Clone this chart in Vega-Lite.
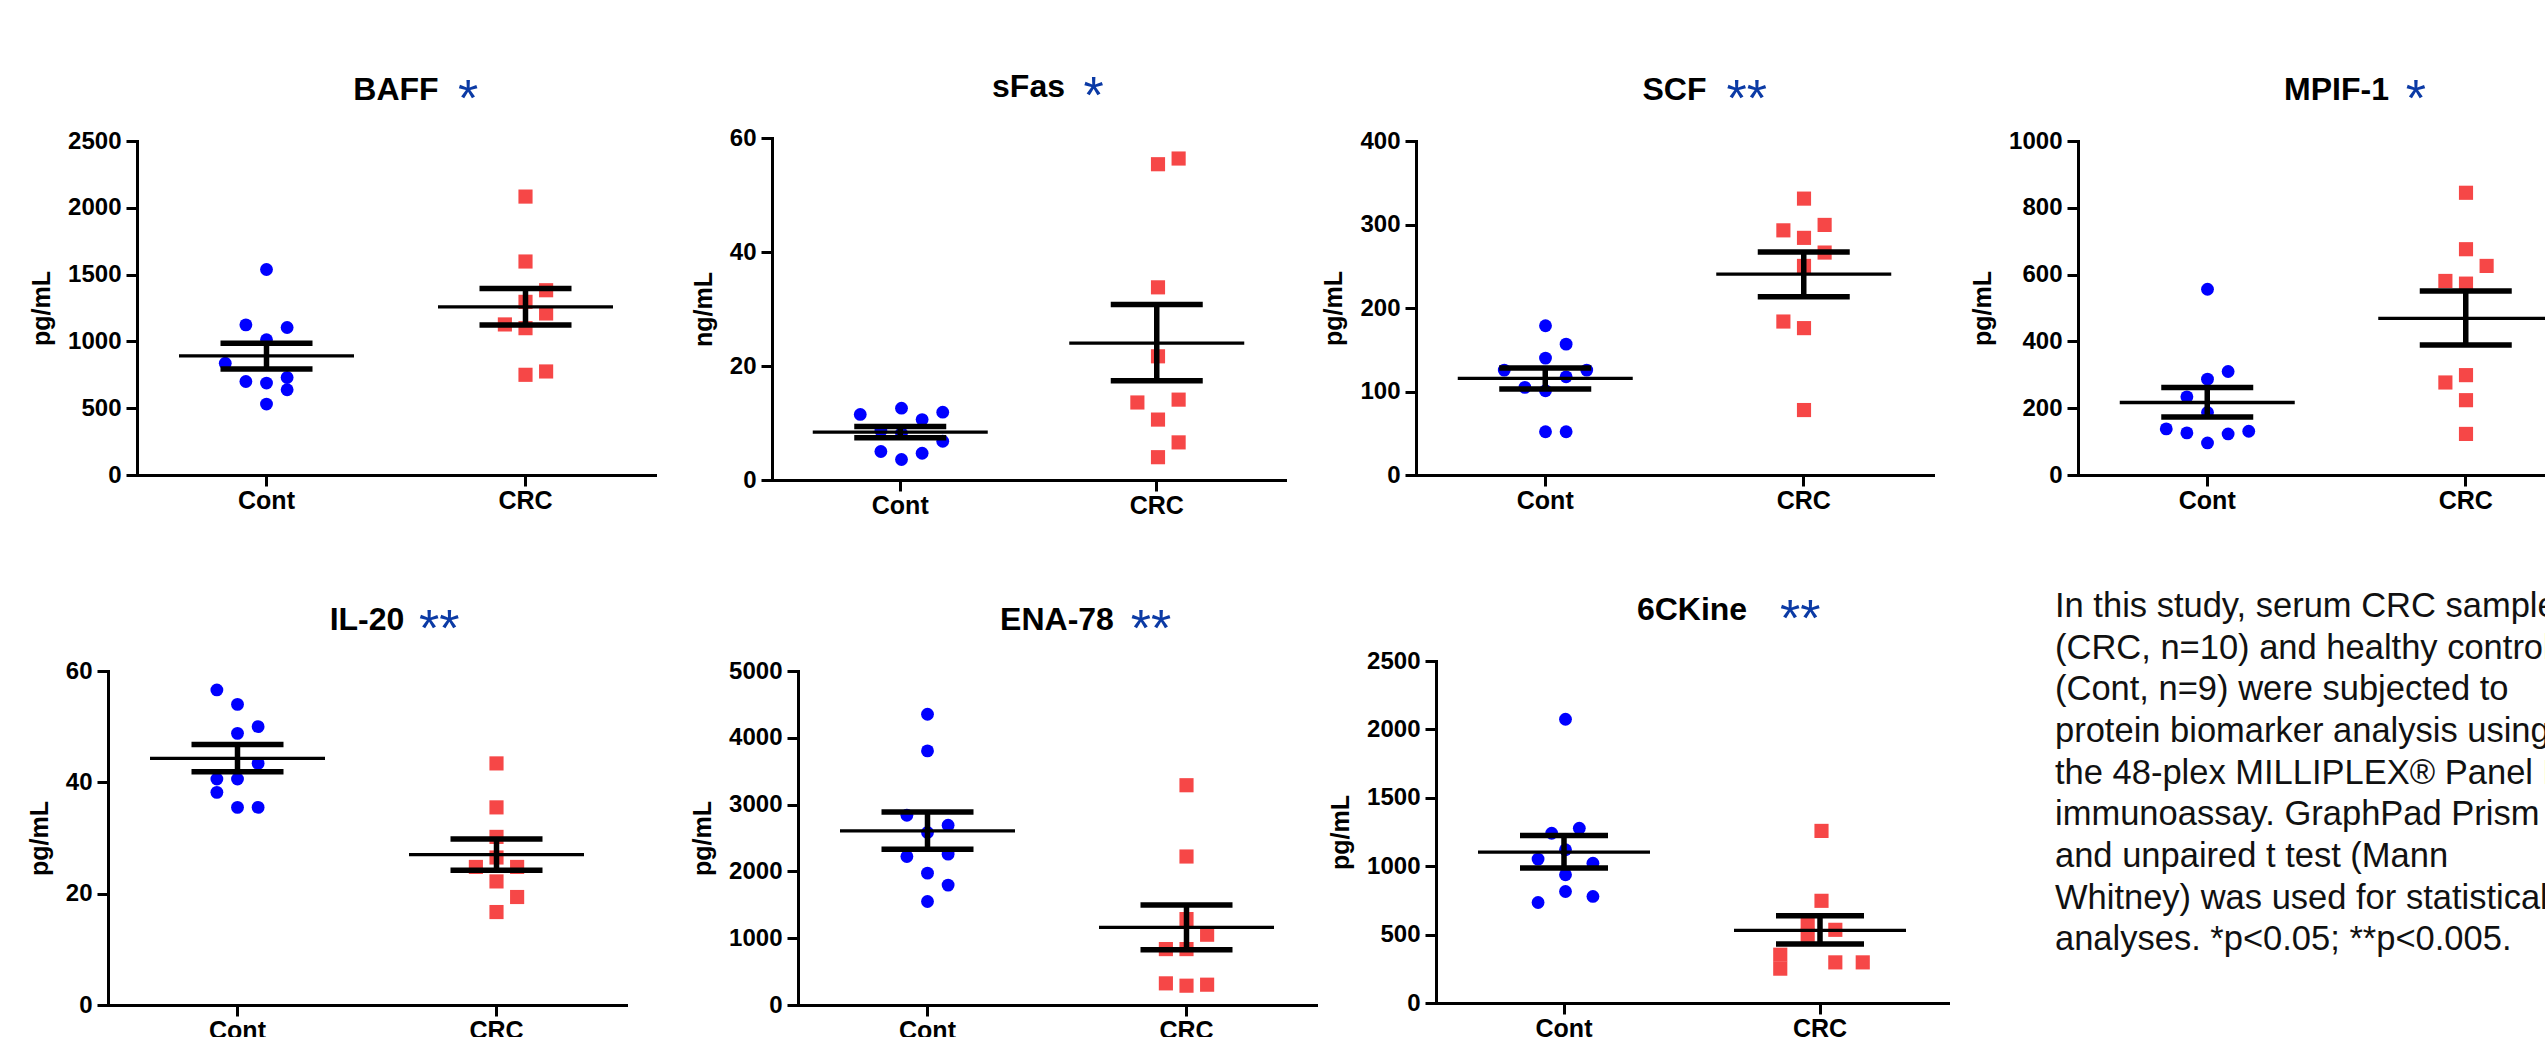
{
"$schema": "https://vega.github.io/schema/vega-lite/v6.json",
"background": "white",
"padding": {"top": 71, "left": 0, "right": 0, "bottom": 0},
"autosize": {"type": "pad"},
"spacing": 0,
"datasets": {
"pts": [
{"p":"BAFF","g":"Cont","v":1538,"j":0},{"p":"BAFF","g":"Cont","v":1124,"j":-1},{"p":"BAFF","g":"Cont","v":1104,"j":1},{"p":"BAFF","g":"Cont","v":1012,"j":0},{"p":"BAFF","g":"Cont","v":837,"j":-2},{"p":"BAFF","g":"Cont","v":730,"j":1},{"p":"BAFF","g":"Cont","v":700,"j":-1},{"p":"BAFF","g":"Cont","v":688,"j":0},{"p":"BAFF","g":"Cont","v":638,"j":1},{"p":"BAFF","g":"Cont","v":531,"j":0},
{"p":"BAFF","g":"CRC","v":2084,"j":0},{"p":"BAFF","g":"CRC","v":1598,"j":0},{"p":"BAFF","g":"CRC","v":1383,"j":1},{"p":"BAFF","g":"CRC","v":1296,"j":0},{"p":"BAFF","g":"CRC","v":1209,"j":1},{"p":"BAFF","g":"CRC","v":1127,"j":-1},{"p":"BAFF","g":"CRC","v":1099,"j":0},{"p":"BAFF","g":"CRC","v":775,"j":1},{"p":"BAFF","g":"CRC","v":750,"j":0},
{"p":"sFas","g":"Cont","v":12.6,"j":0},{"p":"sFas","g":"Cont","v":11.5,"j":-2},{"p":"sFas","g":"Cont","v":11.9,"j":2},{"p":"sFas","g":"Cont","v":10.6,"j":1},{"p":"sFas","g":"Cont","v":8.6,"j":-1},{"p":"sFas","g":"Cont","v":8.2,"j":0},{"p":"sFas","g":"Cont","v":6.8,"j":2},{"p":"sFas","g":"Cont","v":5.0,"j":-1},{"p":"sFas","g":"Cont","v":4.7,"j":1},{"p":"sFas","g":"Cont","v":3.6,"j":0},
{"p":"sFas","g":"CRC","v":56.4,"j":1},{"p":"sFas","g":"CRC","v":55.4,"j":0},{"p":"sFas","g":"CRC","v":33.8,"j":0},{"p":"sFas","g":"CRC","v":21.7,"j":0},{"p":"sFas","g":"CRC","v":13.6,"j":-1},{"p":"sFas","g":"CRC","v":14.1,"j":1},{"p":"sFas","g":"CRC","v":10.6,"j":0},{"p":"sFas","g":"CRC","v":6.6,"j":1},{"p":"sFas","g":"CRC","v":4.0,"j":0},
{"p":"SCF","g":"Cont","v":178.7,"j":0},{"p":"SCF","g":"Cont","v":156.7,"j":1},{"p":"SCF","g":"Cont","v":140,"j":0},{"p":"SCF","g":"Cont","v":125.6,"j":-2},{"p":"SCF","g":"Cont","v":125.6,"j":2},{"p":"SCF","g":"Cont","v":117.6,"j":1},{"p":"SCF","g":"Cont","v":104.9,"j":-1},{"p":"SCF","g":"Cont","v":100.9,"j":0},{"p":"SCF","g":"Cont","v":51.8,"j":0},{"p":"SCF","g":"Cont","v":51.8,"j":1},
{"p":"SCF","g":"CRC","v":331,"j":0},{"p":"SCF","g":"CRC","v":299.5,"j":1},{"p":"SCF","g":"CRC","v":293,"j":-1},{"p":"SCF","g":"CRC","v":284,"j":0},{"p":"SCF","g":"CRC","v":266.4,"j":1},{"p":"SCF","g":"CRC","v":250.4,"j":0},{"p":"SCF","g":"CRC","v":183.8,"j":-1},{"p":"SCF","g":"CRC","v":175.9,"j":0},{"p":"SCF","g":"CRC","v":77.8,"j":0},
{"p":"MPIF-1","g":"Cont","v":556,"j":0},{"p":"MPIF-1","g":"Cont","v":310,"j":1},{"p":"MPIF-1","g":"Cont","v":287,"j":0},{"p":"MPIF-1","g":"Cont","v":234,"j":-1},{"p":"MPIF-1","g":"Cont","v":187,"j":0},{"p":"MPIF-1","g":"Cont","v":138,"j":-2},{"p":"MPIF-1","g":"Cont","v":131,"j":2},{"p":"MPIF-1","g":"Cont","v":126,"j":-1},{"p":"MPIF-1","g":"Cont","v":123,"j":1},{"p":"MPIF-1","g":"Cont","v":96,"j":0},
{"p":"MPIF-1","g":"CRC","v":845,"j":0},{"p":"MPIF-1","g":"CRC","v":676,"j":0},{"p":"MPIF-1","g":"CRC","v":626,"j":1},{"p":"MPIF-1","g":"CRC","v":581,"j":-1},{"p":"MPIF-1","g":"CRC","v":573,"j":0},{"p":"MPIF-1","g":"CRC","v":299,"j":0},{"p":"MPIF-1","g":"CRC","v":277,"j":-1},{"p":"MPIF-1","g":"CRC","v":224,"j":0},{"p":"MPIF-1","g":"CRC","v":123,"j":0},
{"p":"IL-20","g":"Cont","v":56.6,"j":-1},{"p":"IL-20","g":"Cont","v":54.0,"j":0},{"p":"IL-20","g":"Cont","v":50.0,"j":1},{"p":"IL-20","g":"Cont","v":48.8,"j":0},{"p":"IL-20","g":"Cont","v":43.4,"j":1},{"p":"IL-20","g":"Cont","v":40.6,"j":-1},{"p":"IL-20","g":"Cont","v":40.6,"j":0},{"p":"IL-20","g":"Cont","v":38.2,"j":-1},{"p":"IL-20","g":"Cont","v":35.5,"j":0},{"p":"IL-20","g":"Cont","v":35.5,"j":1},
{"p":"IL-20","g":"CRC","v":43.4,"j":0},{"p":"IL-20","g":"CRC","v":35.5,"j":0},{"p":"IL-20","g":"CRC","v":30.2,"j":0},{"p":"IL-20","g":"CRC","v":26.5,"j":0},{"p":"IL-20","g":"CRC","v":24.8,"j":-1},{"p":"IL-20","g":"CRC","v":24.8,"j":1},{"p":"IL-20","g":"CRC","v":22.2,"j":0},{"p":"IL-20","g":"CRC","v":19.4,"j":1},{"p":"IL-20","g":"CRC","v":16.7,"j":0},
{"p":"ENA-78","g":"Cont","v":4352,"j":0},{"p":"ENA-78","g":"Cont","v":3804,"j":0},{"p":"ENA-78","g":"Cont","v":2841,"j":-1},{"p":"ENA-78","g":"Cont","v":2692,"j":1},{"p":"ENA-78","g":"Cont","v":2582,"j":0},{"p":"ENA-78","g":"Cont","v":2223,"j":-1},{"p":"ENA-78","g":"Cont","v":2258,"j":1},{"p":"ENA-78","g":"Cont","v":1974,"j":0},{"p":"ENA-78","g":"Cont","v":1795,"j":1},{"p":"ENA-78","g":"Cont","v":1550,"j":0},
{"p":"ENA-78","g":"CRC","v":3290,"j":0},{"p":"ENA-78","g":"CRC","v":2223,"j":0},{"p":"ENA-78","g":"CRC","v":1286,"j":0},{"p":"ENA-78","g":"CRC","v":1052,"j":1},{"p":"ENA-78","g":"CRC","v":837,"j":-1},{"p":"ENA-78","g":"CRC","v":837,"j":0},{"p":"ENA-78","g":"CRC","v":324,"j":-1},{"p":"ENA-78","g":"CRC","v":289,"j":0},{"p":"ENA-78","g":"CRC","v":304,"j":1},
{"p":"6CKine","g":"Cont","v":2074,"j":0},{"p":"6CKine","g":"Cont","v":1278,"j":0.67},{"p":"6CKine","g":"Cont","v":1241,"j":-0.67},{"p":"6CKine","g":"Cont","v":1120,"j":0},{"p":"6CKine","g":"Cont","v":1052,"j":-1.33},{"p":"6CKine","g":"Cont","v":1022,"j":1.33},{"p":"6CKine","g":"Cont","v":937,"j":0},{"p":"6CKine","g":"Cont","v":815,"j":0},{"p":"6CKine","g":"Cont","v":779,"j":1.33},{"p":"6CKine","g":"Cont","v":735,"j":-1.33},
{"p":"6CKine","g":"CRC","v":1258,"j":0},{"p":"6CKine","g":"CRC","v":747,"j":0},{"p":"6CKine","g":"CRC","v":572,"j":-0.67},{"p":"6CKine","g":"CRC","v":535,"j":0.67},{"p":"6CKine","g":"CRC","v":494,"j":-0.67},{"p":"6CKine","g":"CRC","v":353,"j":-2},{"p":"6CKine","g":"CRC","v":251,"j":-2},{"p":"6CKine","g":"CRC","v":297,"j":0.67},{"p":"6CKine","g":"CRC","v":297,"j":2}
],
"sum": [
{"p":"BAFF","g":"Cont","m":892,"lo":793,"hi":987},{"p":"BAFF","g":"CRC","m":1259,"lo":1122,"hi":1396},
{"p":"sFas","g":"Cont","m":8.4,"lo":7.4,"hi":9.4},{"p":"sFas","g":"CRC","m":24.0,"lo":17.4,"hi":30.8},
{"p":"SCF","g":"Cont","m":115.7,"lo":102.9,"hi":128},{"p":"SCF","g":"CRC","m":240.5,"lo":213.4,"hi":267.2},
{"p":"MPIF-1","g":"Cont","m":217,"lo":174,"hi":262},{"p":"MPIF-1","g":"CRC","m":469,"lo":389,"hi":551},
{"p":"IL-20","g":"Cont","m":44.3,"lo":41.9,"hi":46.8},{"p":"IL-20","g":"CRC","m":27.0,"lo":24.2,"hi":29.8},
{"p":"ENA-78","g":"Cont","m":2607,"lo":2333,"hi":2891},{"p":"ENA-78","g":"CRC","m":1162,"lo":828,"hi":1496},
{"p":"6CKine","g":"Cont","m":1103,"lo":986,"hi":1224},{"p":"6CKine","g":"CRC","m":531,"lo":431,"hi":638}
],
"txt": [
{"i":1,"t":"In this study, serum CRC samples"},
{"i":2,"t":"(CRC, n=10) and healthy controls"},
{"i":3,"t":"(Cont, n=9) were subjected to"},
{"i":4,"t":"protein biomarker analysis using"},
{"i":5,"t":"the 48-plex MILLIPLEX® Panel B"},
{"i":6,"t":"immunoassay. GraphPad Prism"},
{"i":7,"t":"and unpaired t test (Mann"},
{"i":8,"t":"Whitney) was used for statistical"},
{"i":9,"t":"analyses. *p<0.05; **p<0.005."}
]
},
"vconcat": [
{
"hconcat": [
{"width":137,"height":448,"data":{"values":[]},"mark":"point"},
{
"width":518,"height":334,
"title":{"text":"BAFF","subtitle":"\u200b\u00a0\u00a0\u00a0\u00a0\u00a0\u00a0\u00a0\u00a0\u00a0\u00a0*"},
"encoding":{"x":{"field":"g","type":"nominal","title":null,"scale":{"type":"band","domain":["Cont","CRC"],"paddingInner":0,"paddingOuter":0}}},
"layer":[
{"data":{"name":"pts"},"transform":[{"filter":"datum.p === 'BAFF'"}],"mark":{"type":"point","filled":true,"opacity":1,"strokeWidth":0},
"encoding":{"xOffset":{"field":"j","type":"quantitative","scale":{"domain":[-6.28,6.28],"nice":false,"zero":false}},
"y":{"field":"v","type":"quantitative","title":"pg/mL","scale":{"domain":[0,2500],"nice":false},"axis":{"values":[0,500,1000,1500,2000,2500],"format":"d"}},
"color":{"field":"g","type":"nominal","scale":{"domain":["Cont","CRC"],"range":["#0000ff","#f64747"]},"legend":null},
"shape":{"field":"g","type":"nominal","scale":{"domain":["Cont","CRC"],"range":["circle","square"]},"legend":null},
"size":{"field":"g","type":"ordinal","scale":{"domain":["Cont","CRC"],"range":[165,200]},"legend":null}}},
{"data":{"name":"sum"},"transform":[{"filter":"datum.p === 'BAFF'"}],"mark":{"type":"tick","size":175,"thickness":3.3,"color":"#000","opacity":1},"encoding":{"y":{"field":"m","type":"quantitative","title":"pg/mL","scale":{"domain":[0,2500],"nice":false}}}},
{"data":{"name":"sum"},"transform":[{"filter":"datum.p === 'BAFF'"}],"mark":{"type":"tick","size":92,"thickness":5.5,"color":"#000","opacity":1},"encoding":{"y":{"field":"lo","type":"quantitative","title":"pg/mL","scale":{"domain":[0,2500],"nice":false}}}},
{"data":{"name":"sum"},"transform":[{"filter":"datum.p === 'BAFF'"}],"mark":{"type":"tick","size":92,"thickness":5.5,"color":"#000","opacity":1},"encoding":{"y":{"field":"hi","type":"quantitative","title":"pg/mL","scale":{"domain":[0,2500],"nice":false}}}},
{"data":{"name":"sum"},"transform":[{"filter":"datum.p === 'BAFF'"}],"mark":{"type":"rule","strokeWidth":5.5,"color":"#000","opacity":1},"encoding":{"y":{"field":"lo","type":"quantitative","title":"pg/mL","scale":{"domain":[0,2500],"nice":false}},"y2":{"field":"hi"}}}
]
},
{"width":117,"height":1,"data":{"values":[]},"mark":"point"},
{
"width":513,"height":339,
"title":{"text":"sFas","subtitle":"\u200b\u00a0\u00a0\u00a0\u00a0\u00a0\u00a0\u00a0\u00a0\u00a0*"},
"encoding":{"x":{"field":"g","type":"nominal","title":null,"scale":{"type":"band","domain":["Cont","CRC"],"paddingInner":0,"paddingOuter":0}}},
"layer":[
{"data":{"name":"pts"},"transform":[{"filter":"datum.p === 'sFas'"}],"mark":{"type":"point","filled":true,"opacity":1,"strokeWidth":0},
"encoding":{"xOffset":{"field":"j","type":"quantitative","scale":{"domain":[-6.28,6.28],"nice":false,"zero":false}},
"y":{"field":"v","type":"quantitative","title":"ng/mL","scale":{"domain":[0,60],"nice":false,"range":[339,-3]},"axis":{"values":[0,20,40,60],"format":"d"}},
"color":{"field":"g","type":"nominal","scale":{"domain":["Cont","CRC"],"range":["#0000ff","#f64747"]},"legend":null},
"shape":{"field":"g","type":"nominal","scale":{"domain":["Cont","CRC"],"range":["circle","square"]},"legend":null},
"size":{"field":"g","type":"ordinal","scale":{"domain":["Cont","CRC"],"range":[165,200]},"legend":null}}},
{"data":{"name":"sum"},"transform":[{"filter":"datum.p === 'sFas'"}],"mark":{"type":"tick","size":175,"thickness":3.3,"color":"#000","opacity":1},"encoding":{"y":{"field":"m","type":"quantitative","title":"ng/mL","scale":{"domain":[0,60],"nice":false,"range":[339,-3]}}}},
{"data":{"name":"sum"},"transform":[{"filter":"datum.p === 'sFas'"}],"mark":{"type":"tick","size":92,"thickness":5.5,"color":"#000","opacity":1},"encoding":{"y":{"field":"lo","type":"quantitative","title":"ng/mL","scale":{"domain":[0,60],"nice":false,"range":[339,-3]}}}},
{"data":{"name":"sum"},"transform":[{"filter":"datum.p === 'sFas'"}],"mark":{"type":"tick","size":92,"thickness":5.5,"color":"#000","opacity":1},"encoding":{"y":{"field":"hi","type":"quantitative","title":"ng/mL","scale":{"domain":[0,60],"nice":false,"range":[339,-3]}}}},
{"data":{"name":"sum"},"transform":[{"filter":"datum.p === 'sFas'"}],"mark":{"type":"rule","strokeWidth":5.5,"color":"#000","opacity":1},"encoding":{"y":{"field":"lo","type":"quantitative","title":"ng/mL","scale":{"domain":[0,60],"nice":false,"range":[339,-3]}},"y2":{"field":"hi"}}}
]
},
{"width":131,"height":1,"data":{"values":[]},"mark":"point"},
{
"width":517,"height":334,
"title":{"text":"SCF","subtitle":"\u200b\u00a0\u00a0\u00a0\u00a0\u00a0\u00a0\u00a0\u00a0\u00a0\u00a0**"},
"encoding":{"x":{"field":"g","type":"nominal","title":null,"scale":{"type":"band","domain":["Cont","CRC"],"paddingInner":0,"paddingOuter":0}}},
"layer":[
{"data":{"name":"pts"},"transform":[{"filter":"datum.p === 'SCF'"}],"mark":{"type":"point","filled":true,"opacity":1,"strokeWidth":0},
"encoding":{"xOffset":{"field":"j","type":"quantitative","scale":{"domain":[-6.28,6.28],"nice":false,"zero":false}},
"y":{"field":"v","type":"quantitative","title":"pg/mL","scale":{"domain":[0,400],"nice":false},"axis":{"values":[0,100,200,300,400],"format":"d"}},
"color":{"field":"g","type":"nominal","scale":{"domain":["Cont","CRC"],"range":["#0000ff","#f64747"]},"legend":null},
"shape":{"field":"g","type":"nominal","scale":{"domain":["Cont","CRC"],"range":["circle","square"]},"legend":null},
"size":{"field":"g","type":"ordinal","scale":{"domain":["Cont","CRC"],"range":[165,200]},"legend":null}}},
{"data":{"name":"sum"},"transform":[{"filter":"datum.p === 'SCF'"}],"mark":{"type":"tick","size":175,"thickness":3.3,"color":"#000","opacity":1},"encoding":{"y":{"field":"m","type":"quantitative","title":"pg/mL","scale":{"domain":[0,400],"nice":false}}}},
{"data":{"name":"sum"},"transform":[{"filter":"datum.p === 'SCF'"}],"mark":{"type":"tick","size":92,"thickness":5.5,"color":"#000","opacity":1},"encoding":{"y":{"field":"lo","type":"quantitative","title":"pg/mL","scale":{"domain":[0,400],"nice":false}}}},
{"data":{"name":"sum"},"transform":[{"filter":"datum.p === 'SCF'"}],"mark":{"type":"tick","size":92,"thickness":5.5,"color":"#000","opacity":1},"encoding":{"y":{"field":"hi","type":"quantitative","title":"pg/mL","scale":{"domain":[0,400],"nice":false}}}},
{"data":{"name":"sum"},"transform":[{"filter":"datum.p === 'SCF'"}],"mark":{"type":"rule","strokeWidth":5.5,"color":"#000","opacity":1},"encoding":{"y":{"field":"lo","type":"quantitative","title":"pg/mL","scale":{"domain":[0,400],"nice":false}},"y2":{"field":"hi"}}}
]
},
{"width":145,"height":1,"data":{"values":[]},"mark":"point"},
{
"width":517,"height":334,
"title":{"text":"MPIF-1","subtitle":"\u200b\u00a0\u00a0\u00a0\u00a0\u00a0\u00a0\u00a0\u00a0\u00a0\u00a0\u00a0*"},
"encoding":{"x":{"field":"g","type":"nominal","title":null,"scale":{"type":"band","domain":["Cont","CRC"],"paddingInner":0,"paddingOuter":0}}},
"layer":[
{"data":{"name":"pts"},"transform":[{"filter":"datum.p === 'MPIF-1'"}],"mark":{"type":"point","filled":true,"opacity":1,"strokeWidth":0},
"encoding":{"xOffset":{"field":"j","type":"quantitative","scale":{"domain":[-6.28,6.28],"nice":false,"zero":false}},
"y":{"field":"v","type":"quantitative","title":"pg/mL","scale":{"domain":[0,1000],"nice":false},"axis":{"values":[0,200,400,600,800,1000],"format":"d"}},
"color":{"field":"g","type":"nominal","scale":{"domain":["Cont","CRC"],"range":["#0000ff","#f64747"]},"legend":null},
"shape":{"field":"g","type":"nominal","scale":{"domain":["Cont","CRC"],"range":["circle","square"]},"legend":null},
"size":{"field":"g","type":"ordinal","scale":{"domain":["Cont","CRC"],"range":[165,200]},"legend":null}}},
{"data":{"name":"sum"},"transform":[{"filter":"datum.p === 'MPIF-1'"}],"mark":{"type":"tick","size":175,"thickness":3.3,"color":"#000","opacity":1},"encoding":{"y":{"field":"m","type":"quantitative","title":"pg/mL","scale":{"domain":[0,1000],"nice":false}}}},
{"data":{"name":"sum"},"transform":[{"filter":"datum.p === 'MPIF-1'"}],"mark":{"type":"tick","size":92,"thickness":5.5,"color":"#000","opacity":1},"encoding":{"y":{"field":"lo","type":"quantitative","title":"pg/mL","scale":{"domain":[0,1000],"nice":false}}}},
{"data":{"name":"sum"},"transform":[{"filter":"datum.p === 'MPIF-1'"}],"mark":{"type":"tick","size":92,"thickness":5.5,"color":"#000","opacity":1},"encoding":{"y":{"field":"hi","type":"quantitative","title":"pg/mL","scale":{"domain":[0,1000],"nice":false}}}},
{"data":{"name":"sum"},"transform":[{"filter":"datum.p === 'MPIF-1'"}],"mark":{"type":"rule","strokeWidth":5.5,"color":"#000","opacity":1},"encoding":{"y":{"field":"lo","type":"quantitative","title":"pg/mL","scale":{"domain":[0,1000],"nice":false}},"y2":{"field":"hi"}}}
]
}
],
"spacing": 0,
"bounds": "flush"
},
{
"hconcat": [
{"width":108,"height":1,"data":{"values":[]},"mark":"point"},
{
"width":518,"height":334,
"title":{"text":"IL-20","subtitle":"\u200b\u00a0\u00a0\u00a0\u00a0\u00a0\u00a0\u00a0\u00a0\u00a0\u00a0**"},
"encoding":{"x":{"field":"g","type":"nominal","title":null,"scale":{"type":"band","domain":["Cont","CRC"],"paddingInner":0,"paddingOuter":0}}},
"layer":[
{"data":{"name":"pts"},"transform":[{"filter":"datum.p === 'IL-20'"}],"mark":{"type":"point","filled":true,"opacity":1,"strokeWidth":0},
"encoding":{"xOffset":{"field":"j","type":"quantitative","scale":{"domain":[-6.28,6.28],"nice":false,"zero":false}},
"y":{"field":"v","type":"quantitative","title":"pg/mL","scale":{"domain":[0,60],"nice":false},"axis":{"values":[0,20,40,60],"format":"d"}},
"color":{"field":"g","type":"nominal","scale":{"domain":["Cont","CRC"],"range":["#0000ff","#f64747"]},"legend":null},
"shape":{"field":"g","type":"nominal","scale":{"domain":["Cont","CRC"],"range":["circle","square"]},"legend":null},
"size":{"field":"g","type":"ordinal","scale":{"domain":["Cont","CRC"],"range":[165,200]},"legend":null}}},
{"data":{"name":"sum"},"transform":[{"filter":"datum.p === 'IL-20'"}],"mark":{"type":"tick","size":175,"thickness":3.3,"color":"#000","opacity":1},"encoding":{"y":{"field":"m","type":"quantitative","title":"pg/mL","scale":{"domain":[0,60],"nice":false}}}},
{"data":{"name":"sum"},"transform":[{"filter":"datum.p === 'IL-20'"}],"mark":{"type":"tick","size":92,"thickness":5.5,"color":"#000","opacity":1},"encoding":{"y":{"field":"lo","type":"quantitative","title":"pg/mL","scale":{"domain":[0,60],"nice":false}}}},
{"data":{"name":"sum"},"transform":[{"filter":"datum.p === 'IL-20'"}],"mark":{"type":"tick","size":92,"thickness":5.5,"color":"#000","opacity":1},"encoding":{"y":{"field":"hi","type":"quantitative","title":"pg/mL","scale":{"domain":[0,60],"nice":false}}}},
{"data":{"name":"sum"},"transform":[{"filter":"datum.p === 'IL-20'"}],"mark":{"type":"rule","strokeWidth":5.5,"color":"#000","opacity":1},"encoding":{"y":{"field":"lo","type":"quantitative","title":"pg/mL","scale":{"domain":[0,60],"nice":false}},"y2":{"field":"hi"}}}
]
},
{"width":172,"height":1,"data":{"values":[]},"mark":"point"},
{
"width":518,"height":334,
"title":{"text":"ENA-78","subtitle":"\u200b\u00a0\u00a0\u00a0\u00a0\u00a0\u00a0\u00a0\u00a0\u00a0\u00a0\u00a0\u00a0\u00a0**"},
"encoding":{"x":{"field":"g","type":"nominal","title":null,"scale":{"type":"band","domain":["Cont","CRC"],"paddingInner":0,"paddingOuter":0}}},
"layer":[
{"data":{"name":"pts"},"transform":[{"filter":"datum.p === 'ENA-78'"}],"mark":{"type":"point","filled":true,"opacity":1,"strokeWidth":0},
"encoding":{"xOffset":{"field":"j","type":"quantitative","scale":{"domain":[-6.28,6.28],"nice":false,"zero":false}},
"y":{"field":"v","type":"quantitative","title":"pg/mL","scale":{"domain":[0,5000],"nice":false},"axis":{"values":[0,1000,2000,3000,4000,5000],"format":"d"}},
"color":{"field":"g","type":"nominal","scale":{"domain":["Cont","CRC"],"range":["#0000ff","#f64747"]},"legend":null},
"shape":{"field":"g","type":"nominal","scale":{"domain":["Cont","CRC"],"range":["circle","square"]},"legend":null},
"size":{"field":"g","type":"ordinal","scale":{"domain":["Cont","CRC"],"range":[165,200]},"legend":null}}},
{"data":{"name":"sum"},"transform":[{"filter":"datum.p === 'ENA-78'"}],"mark":{"type":"tick","size":175,"thickness":3.3,"color":"#000","opacity":1},"encoding":{"y":{"field":"m","type":"quantitative","title":"pg/mL","scale":{"domain":[0,5000],"nice":false}}}},
{"data":{"name":"sum"},"transform":[{"filter":"datum.p === 'ENA-78'"}],"mark":{"type":"tick","size":92,"thickness":5.5,"color":"#000","opacity":1},"encoding":{"y":{"field":"lo","type":"quantitative","title":"pg/mL","scale":{"domain":[0,5000],"nice":false}}}},
{"data":{"name":"sum"},"transform":[{"filter":"datum.p === 'ENA-78'"}],"mark":{"type":"tick","size":92,"thickness":5.5,"color":"#000","opacity":1},"encoding":{"y":{"field":"hi","type":"quantitative","title":"pg/mL","scale":{"domain":[0,5000],"nice":false}}}},
{"data":{"name":"sum"},"transform":[{"filter":"datum.p === 'ENA-78'"}],"mark":{"type":"rule","strokeWidth":5.5,"color":"#000","opacity":1},"encoding":{"y":{"field":"lo","type":"quantitative","title":"pg/mL","scale":{"domain":[0,5000],"nice":false}},"y2":{"field":"hi"}}}
]
},
{"width":120,"height":1,"data":{"values":[]},"mark":"point"},
{
"width":512,"height":332,
"title":{"text":"6CKine","subtitle":"\u200b\u00a0\u00a0\u00a0\u00a0\u00a0\u00a0\u00a0\u00a0\u00a0\u00a0\u00a0\u00a0\u00a0\u00a0\u00a0**"},
"encoding":{"x":{"field":"g","type":"nominal","title":null,"scale":{"type":"band","domain":["Cont","CRC"],"paddingInner":0,"paddingOuter":0}}},
"layer":[
{"data":{"name":"pts"},"transform":[{"filter":"datum.p === '6CKine'"}],"mark":{"type":"point","filled":true,"opacity":1,"strokeWidth":0},
"encoding":{"xOffset":{"field":"j","type":"quantitative","scale":{"domain":[-6.28,6.28],"nice":false,"zero":false}},
"y":{"field":"v","type":"quantitative","title":"pg/mL","scale":{"domain":[0,2500],"nice":false,"range":[332,-10]},"axis":{"values":[0,500,1000,1500,2000,2500],"format":"d"}},
"color":{"field":"g","type":"nominal","scale":{"domain":["Cont","CRC"],"range":["#0000ff","#f64747"]},"legend":null},
"shape":{"field":"g","type":"nominal","scale":{"domain":["Cont","CRC"],"range":["circle","square"]},"legend":null},
"size":{"field":"g","type":"ordinal","scale":{"domain":["Cont","CRC"],"range":[165,200]},"legend":null}}},
{"data":{"name":"sum"},"transform":[{"filter":"datum.p === '6CKine'"}],"mark":{"type":"tick","size":172,"thickness":3.3,"color":"#000","opacity":1},"encoding":{"y":{"field":"m","type":"quantitative","title":"pg/mL","scale":{"domain":[0,2500],"nice":false,"range":[332,-10]}}}},
{"data":{"name":"sum"},"transform":[{"filter":"datum.p === '6CKine'"}],"mark":{"type":"tick","size":88,"thickness":5.5,"color":"#000","opacity":1},"encoding":{"y":{"field":"lo","type":"quantitative","title":"pg/mL","scale":{"domain":[0,2500],"nice":false,"range":[332,-10]}}}},
{"data":{"name":"sum"},"transform":[{"filter":"datum.p === '6CKine'"}],"mark":{"type":"tick","size":88,"thickness":5.5,"color":"#000","opacity":1},"encoding":{"y":{"field":"hi","type":"quantitative","title":"pg/mL","scale":{"domain":[0,2500],"nice":false,"range":[332,-10]}}}},
{"data":{"name":"sum"},"transform":[{"filter":"datum.p === '6CKine'"}],"mark":{"type":"rule","strokeWidth":5.5,"color":"#000","opacity":1},"encoding":{"y":{"field":"lo","type":"quantitative","title":"pg/mL","scale":{"domain":[0,2500],"nice":false,"range":[332,-10]}},"y2":{"field":"hi"}}}
]
},
{"width":106,"height":1,"data":{"values":[]},"mark":"point"},
{
"width":2,"height":375,
"data":{"name":"txt"},
"mark":{"type":"text","align":"left","baseline":"middle","fontSize":34.5,"font":"Liberation Sans","color":"#111111"},
"encoding":{"y":{"field":"i","type":"quantitative","axis":null,"scale":{"domain":[2.536,11.536],"reverse":true,"nice":false,"zero":false}},"text":{"field":"t"}}
}
],
"spacing": 0,
"bounds": "flush"
}
],
"config": {
"view": {"stroke": null},
"font": "Liberation Sans",
"axis": {"domainColor":"#000","domainWidth":3,"domainCap":"square","tickColor":"#000","tickWidth":3,"tickSize":11,"labelFont":"Liberation Sans","labelFontSize":24,"labelFontWeight":"bold","labelColor":"#000","labelPadding":5,"titleFont":"Liberation Sans","titleFontSize":25,"titleFontWeight":"bold","titleColor":"#000","titlePadding":13,"grid":false},
"axisX": {"labelAngle":0,"labelFontSize":25,"labelPadding":2},
"title": {"font":"Liberation Sans","fontSize":32,"fontWeight":"bold","color":"#000","anchor":"middle","frame":"group","offset":2,"subtitleFont":"Liberation Sans","subtitleFontSize":52,"subtitleFontWeight":"normal","subtitleColor":"#0b3aa5","subtitlePadding":-32}
}
}
